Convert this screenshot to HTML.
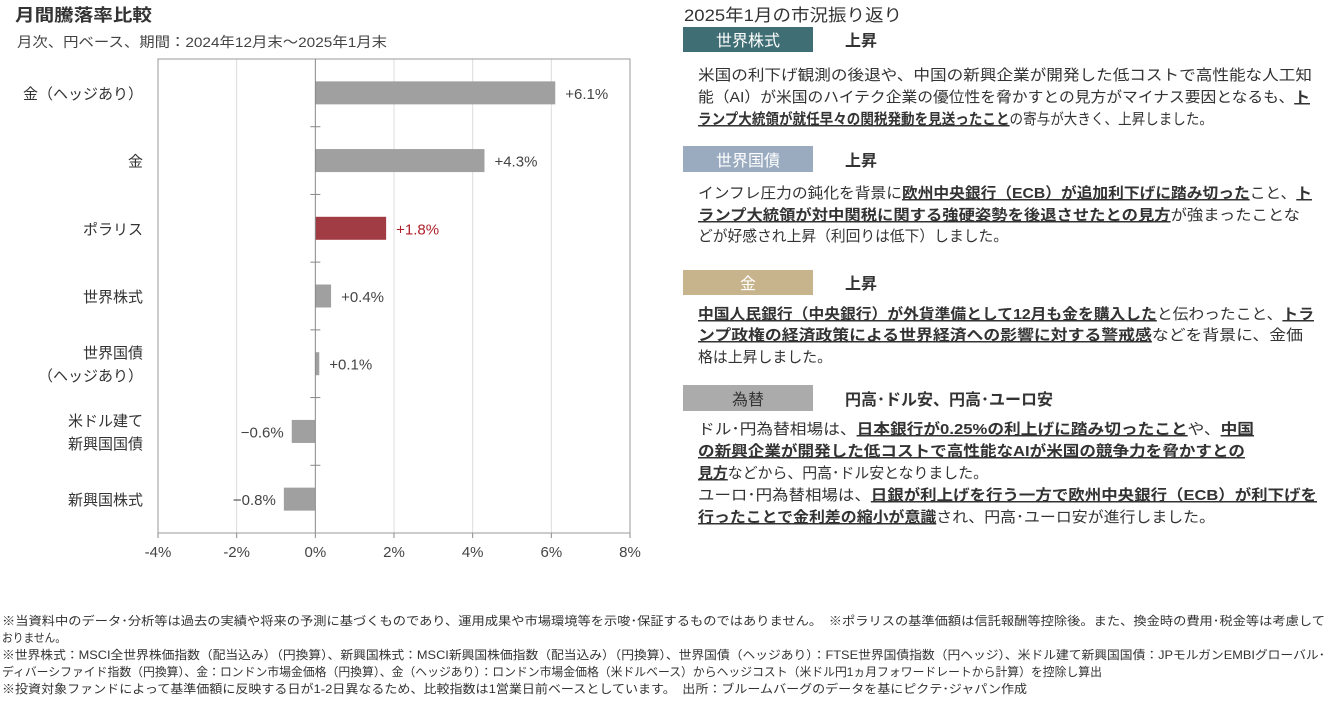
<!DOCTYPE html>
<html><head><meta charset="utf-8"><style>
body{margin:0;background:#fff;}
svg{display:block;font-family:"Liberation Sans","Noto Sans CJK JP",sans-serif;}
.u{text-decoration:underline;font-weight:bold;}
</style></head><body>
<svg id="page" width="1337" height="705" viewBox="0 0 1337 705" xmlns="http://www.w3.org/2000/svg">
<text x="15" y="21" font-size="17" font-weight="bold" fill="#333" textLength="137" lengthAdjust="spacingAndGlyphs">月間騰落率比較</text>
<text x="17" y="47" font-size="14" fill="#444" textLength="370" lengthAdjust="spacingAndGlyphs">月次、円ベース、期間：2024年12月末～2025年1月末</text>
<g id="chart"></g>

<text x="684" y="21" font-size="17" fill="#333" textLength="218" lengthAdjust="spacingAndGlyphs">2025年1月の市況振り返り</text>

<rect x="683" y="27" width="130" height="25" fill="#3f6e74"/>
<text x="748" y="46" font-size="16" fill="#fff" text-anchor="middle">世界株式</text>
<text x="845" y="46" font-size="16" font-weight="bold" fill="#333">上昇</text>
<g font-size="15" fill="#333">
<text x="698" y="80" textLength="614" lengthAdjust="spacingAndGlyphs">米国の利下げ観測の後退や、中国の新興企業が開発した低コストで高性能な人工知</text>
<text x="698" y="102" textLength="612" lengthAdjust="spacingAndGlyphs">能（AI）が米国のハイテク企業の優位性を脅かすとの見方がマイナス要因となるも、<tspan class="u">ト</tspan></text>
<text x="698" y="124" textLength="515" lengthAdjust="spacingAndGlyphs"><tspan class="u">ランプ大統領が就任早々の関税発動を見送ったこと</tspan>の寄与が大きく、上昇しました。</text>
</g>

<rect x="683" y="146" width="130" height="26" fill="#9aabc0"/>
<text x="748" y="166" font-size="16" fill="#fff" text-anchor="middle">世界国債</text>
<text x="845" y="166" font-size="16" font-weight="bold" fill="#333">上昇</text>
<g font-size="15" fill="#333">
<text x="698" y="198" textLength="614" lengthAdjust="spacingAndGlyphs">インフレ圧力の鈍化を背景に<tspan class="u">欧州中央銀行（ECB）が追加利下げに踏み切った</tspan>こと、<tspan class="u">ト</tspan></text>
<text x="698" y="220" textLength="602" lengthAdjust="spacingAndGlyphs"><tspan class="u">ランプ大統領が対中関税に関する強硬姿勢を後退させたとの見方</tspan>が強まったことな</text>
<text x="698" y="241" textLength="310" lengthAdjust="spacingAndGlyphs">どが好感され上昇（利回りは低下）しました。</text>
</g>

<rect x="683" y="270" width="130" height="25" fill="#c8b48c"/>
<text x="748" y="289" font-size="16" fill="#fff" text-anchor="middle">金</text>
<text x="845" y="289" font-size="16" font-weight="bold" fill="#333">上昇</text>
<g font-size="15" fill="#333">
<text x="698" y="319" textLength="616" lengthAdjust="spacingAndGlyphs"><tspan class="u">中国人民銀行（中央銀行）が外貨準備として12月も金を購入した</tspan>と伝わったこと、<tspan class="u">トラ</tspan></text>
<text x="698" y="340" textLength="605" lengthAdjust="spacingAndGlyphs"><tspan class="u">ンプ政権の経済政策による世界経済への影響に対する警戒感</tspan>などを背景に、金価</text>
<text x="698" y="362" textLength="134" lengthAdjust="spacingAndGlyphs">格は上昇しました。</text>
</g>

<rect x="683" y="385" width="130" height="26" fill="#ababab"/>
<text x="748" y="405" font-size="16" fill="#333" text-anchor="middle">為替</text>
<text x="845" y="405" font-size="16" font-weight="bold" fill="#333">円高･ドル安、円高･ユーロ安</text>
<g font-size="15" fill="#333">
<text x="698" y="434" textLength="556" lengthAdjust="spacingAndGlyphs">ドル･円為替相場は、<tspan class="u">日本銀行が0.25%の利上げに踏み切ったこと</tspan>や、<tspan class="u">中国</tspan></text>
<text x="698" y="456" textLength="547" lengthAdjust="spacingAndGlyphs"><tspan class="u">の新興企業が開発した低コストで高性能なAIが米国の競争力を脅かすとの</tspan></text>
<text x="698" y="478" textLength="290" lengthAdjust="spacingAndGlyphs"><tspan class="u">見方</tspan>などから、円高･ドル安となりました。</text>
<text x="698" y="500" textLength="619" lengthAdjust="spacingAndGlyphs">ユーロ･円為替相場は、<tspan class="u">日銀が利上げを行う一方で欧州中央銀行（ECB）が利下げを</tspan></text>
<text x="698" y="522" textLength="517" lengthAdjust="spacingAndGlyphs"><tspan class="u">行ったことで金利差の縮小が意識</tspan>され、円高･ユーロ安が進行しました。</text>
</g>

<g font-size="12" fill="#333">
<text x="2" y="625" textLength="1323" lengthAdjust="spacingAndGlyphs">※当資料中のデータ･分析等は過去の実績や将来の予測に基づくものであり、運用成果や市場環境等を示唆･保証するものではありません。　※ポラリスの基準価額は信託報酬等控除後。また、換金時の費用･税金等は考慮して</text>
<text x="2" y="642" textLength="64" lengthAdjust="spacingAndGlyphs">おりません。</text>
<text x="2" y="659" textLength="1323" lengthAdjust="spacingAndGlyphs">※世界株式：MSCI全世界株価指数（配当込み）（円換算）、新興国株式：MSCI新興国株価指数（配当込み）（円換算）、世界国債（ヘッジあり）：FTSE世界国債指数（円ヘッジ）、米ドル建て新興国国債：JPモルガンEMBIグローバル･</text>
<text x="2" y="676" textLength="1100" lengthAdjust="spacingAndGlyphs">ディバーシファイド指数（円換算）、金：ロンドン市場金価格（円換算）、金（ヘッジあり）：ロンドン市場金価格（米ドルベース）からヘッジコスト（米ドル円1ヵ月フォワードレートから計算）を控除し算出</text>
<text x="2" y="693" textLength="1025" lengthAdjust="spacingAndGlyphs">※投資対象ファンドによって基準価額に反映する日が1-2日異なるため、比較指数は1営業日前ベースとしています。　出所：ブルームバーグのデータを基にピクテ･ジャパン作成</text>
</g>
</svg>
<script>
const categories = [["金（ヘッジあり）"],["金"],["ポラリス"],["世界株式"],["世界国債","（ヘッジあり）"],["米ドル建て","新興国国債"],["新興国株式"]];
const values = [6.1, 4.3, 1.8, 0.4, 0.1, -0.6, -0.8];
const valueLabels = ["+6.1%","+4.3%","+1.8%","+0.4%","+0.1%","−0.6%","−0.8%"];
const highlightIndex = 2;
const xTicks = [-4,-2,0,2,4,6,8];
const xTickLabels = ["-4%","-2%","0%","2%","4%","6%","8%"];

const NS = "http://www.w3.org/2000/svg";
const g = document.getElementById("chart");
const L=158,R=630,T=59,B=533, xMin=-4, xMax=8;
const x = v => L + (v - xMin) / (xMax - xMin) * (R - L);
const band = (B - T) / categories.length;
const yc = i => T + band * (i + 0.5);
function mk(tag, attrs){const e=document.createElementNS(NS,tag);for(const k in attrs)e.setAttribute(k,attrs[k]);g.appendChild(e);return e;}

xTicks.forEach((t,i)=>{
  if(t!==0 && t!==xMin && t!==xMax){const gl=mk("line",{x1:x(t),x2:x(t),y1:T,y2:B,stroke:"#dcdcdc","stroke-width":1});
  
  }
  const tk=mk("line",{x1:x(t),x2:x(t),y1:B,y2:B+5,stroke:"#888"});
  
  
  const tl=mk("text",{x:x(t),y:B+24,"font-size":15,fill:"#444","text-anchor":"middle"});
  tl.textContent=xTickLabels[i];
  
  
});
const frame=mk("rect",{x:L,y:T,width:R-L,height:B-T,fill:"none",stroke:"#999"});



values.forEach((v,i)=>{
  const h=23, c=yc(i);
  const bar=mk("rect",{x:Math.min(x(0),x(v)),y:c-h/2,width:Math.abs(x(v)-x(0)),height:h,fill:i===highlightIndex?"#a23c44":"#a0a0a0"});
  
  
  const vl=mk("text",{x:v>=0?x(v)+10:x(v)-8,y:c+6,"font-size":15,fill:i===highlightIndex?"#b0202a":"#444","text-anchor":v>=0?"start":"end"});
  vl.textContent=valueLabels[i];
  
  
  const lines=categories[i];
  lines.forEach((s,j)=>{
    const cl=mk("text",{x:143,y:c+6+(j-(lines.length-1)/2)*23,"font-size":15,fill:"#333","text-anchor":"end"});
    cl.textContent=s;
    
    
  });
  if(i>0){const tk=mk("line",{x1:x(0)-5,x2:x(0)+5,y1:T+band*i,y2:T+band*i,stroke:"#888"});
  
  }
});
const zero=mk("line",{x1:x(0),x2:x(0),y1:T,y2:B,stroke:"#888"});


</script>
</body></html>
